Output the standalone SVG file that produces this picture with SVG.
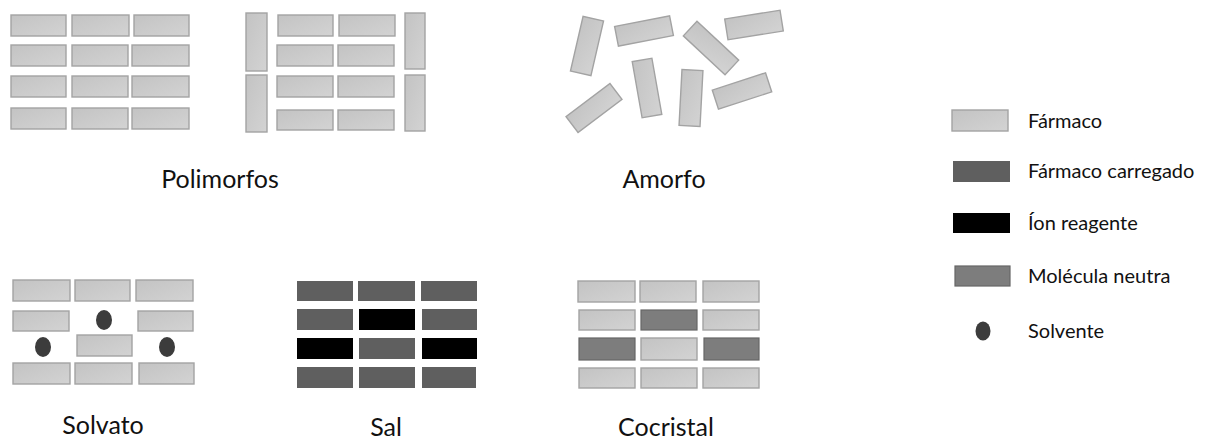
<svg xmlns="http://www.w3.org/2000/svg" width="1210" height="441" viewBox="0 0 1210 441">
<defs>
<linearGradient id="gl" x1="0" y1="0" x2="1" y2="1">
<stop offset="0" stop-color="#c3c3c3"/>
<stop offset="1" stop-color="#d3d3d3"/>
</linearGradient>
<style>
.l{fill:url(#gl);stroke:#a3a3a3;stroke-width:1.4}
.c{fill:#5f5f5f}
.i{fill:#000}
.n{fill:#7d7d7d;stroke:#666;stroke-width:1.2}
.s{fill:#3c3c3c}
.t{font-family:Lato,"Open Sans",sans-serif;fill:#111}
.lab{font-size:25px;text-anchor:middle}
.leg{font-size:20px}
</style>
</defs>
<rect width="1210" height="441" fill="#fff"/>

<g id="polimorfos">
<rect class="l" x="11" y="15" width="55" height="21"/><rect class="l" x="72" y="15" width="57" height="21"/><rect class="l" x="134" y="15" width="55" height="21"/>
<rect class="l" x="11" y="45" width="55" height="21"/><rect class="l" x="72" y="45" width="56" height="21"/><rect class="l" x="132" y="45" width="57" height="21"/>
<rect class="l" x="11" y="76" width="55" height="21"/><rect class="l" x="72" y="76" width="56" height="21"/><rect class="l" x="132" y="76" width="57" height="21"/>
<rect class="l" x="11" y="108" width="55" height="21"/><rect class="l" x="72" y="108" width="56" height="21"/><rect class="l" x="132" y="108" width="57" height="21"/>
<rect class="l" x="246" y="13" width="21" height="58"/><rect class="l" x="246" y="75" width="21" height="57"/>
<rect class="l" x="405" y="13" width="20" height="56"/><rect class="l" x="405" y="75" width="20" height="56"/>
<rect class="l" x="278" y="15" width="55" height="21"/><rect class="l" x="339" y="15" width="56" height="21"/>
<rect class="l" x="277" y="45" width="56" height="21"/><rect class="l" x="338" y="45" width="56" height="21"/>
<rect class="l" x="277" y="76" width="56" height="21"/><rect class="l" x="338" y="76" width="56" height="21"/>
<rect class="l" x="277" y="110" width="56" height="20"/><rect class="l" x="338" y="110" width="56" height="20"/>
<text class="t lab" x="220" y="188">Polimorfos</text>
</g>

<g id="amorfo">
<rect class="l" x="-10.5" y="-28" width="21" height="56" transform="translate(587,46) rotate(13)"/>
<rect class="l" x="-28" y="-10" width="56" height="20" transform="translate(644,31) rotate(-11)"/>
<rect class="l" x="-28.5" y="-10" width="57" height="20" transform="translate(711,48) rotate(43)"/>
<rect class="l" x="-28" y="-10.5" width="56" height="21" transform="translate(754,25) rotate(-9)"/>
<rect class="l" x="-27.5" y="-10" width="55" height="20" transform="translate(594,108) rotate(-37)"/>
<rect class="l" x="-10" y="-28.5" width="20" height="57" transform="translate(647,88) rotate(-10)"/>
<rect class="l" x="-10.5" y="-28" width="21" height="56" transform="translate(691,98) rotate(3)"/>
<rect class="l" x="-28" y="-10" width="56" height="20" transform="translate(742,91) rotate(-18)"/>
<text class="t lab" x="664" y="188">Amorfo</text>
</g>

<g id="solvato">
<rect class="l" x="13" y="280" width="57" height="21"/><rect class="l" x="75" y="280" width="55" height="21"/><rect class="l" x="136" y="280" width="57" height="21"/>
<rect class="l" x="13" y="311" width="56" height="20"/><ellipse class="s" cx="104" cy="320" rx="8" ry="10"/><rect class="l" x="138" y="311" width="55" height="20"/>
<ellipse class="s" cx="43" cy="347" rx="8" ry="10"/><rect class="l" x="77" y="335" width="55" height="21"/><ellipse class="s" cx="167" cy="347" rx="8" ry="10"/>
<rect class="l" x="13" y="363" width="57" height="21"/><rect class="l" x="75" y="363" width="57" height="21"/><rect class="l" x="139" y="363" width="55" height="21"/>
<text class="t lab" x="103" y="434">Solvato</text>
</g>

<g id="sal">
<rect class="c" x="297" y="281" width="56" height="20"/><rect class="c" x="358" y="281" width="57" height="20"/><rect class="c" x="421" y="281" width="56" height="20"/>
<rect class="c" x="297" y="309" width="56" height="21"/><rect class="i" x="359" y="309" width="56" height="21"/><rect class="c" x="422" y="309" width="55" height="21"/>
<rect class="i" x="297" y="338" width="56" height="21"/><rect class="c" x="359" y="338" width="56" height="21"/><rect class="i" x="422" y="338" width="55" height="21"/>
<rect class="c" x="297" y="367" width="56" height="21"/><rect class="c" x="359" y="367" width="56" height="21"/><rect class="c" x="422" y="367" width="54" height="21"/>
<text class="t lab" x="386" y="436">Sal</text>
</g>

<g id="cocristal">
<rect class="l" x="578" y="281" width="57" height="21"/><rect class="l" x="640" y="281" width="56" height="21"/><rect class="l" x="703" y="281" width="56" height="21"/>
<rect class="l" x="579" y="310" width="56" height="20"/><rect class="n" x="641" y="310" width="56" height="20"/><rect class="l" x="703" y="310" width="56" height="20"/>
<rect class="n" x="579" y="338" width="56" height="22"/><rect class="l" x="641" y="338" width="56" height="22"/><rect class="n" x="704" y="338" width="55" height="22"/>
<rect class="l" x="579" y="368" width="56" height="20"/><rect class="l" x="641" y="368" width="56" height="20"/><rect class="l" x="703" y="368" width="56" height="20"/>
<text class="t lab" x="666" y="436">Cocristal</text>
</g>

<g id="legenda">
<rect class="l" x="952" y="110" width="56" height="21"/><text class="t leg" x="1028" y="128">Fármaco</text>
<rect class="c" x="953" y="161" width="57" height="21"/><text class="t leg" x="1028" y="178">Fármaco carregado</text>
<rect class="i" x="953" y="213" width="57" height="20"/><text class="t leg" x="1028" y="230">Íon reagente</text>
<rect class="n" x="955" y="266" width="55" height="20"/><text class="t leg" x="1028" y="283">Molécula neutra</text>
<ellipse class="s" cx="983" cy="331" rx="7.5" ry="9.5"/><text class="t leg" x="1028" y="338">Solvente</text>
</g>
</svg>
